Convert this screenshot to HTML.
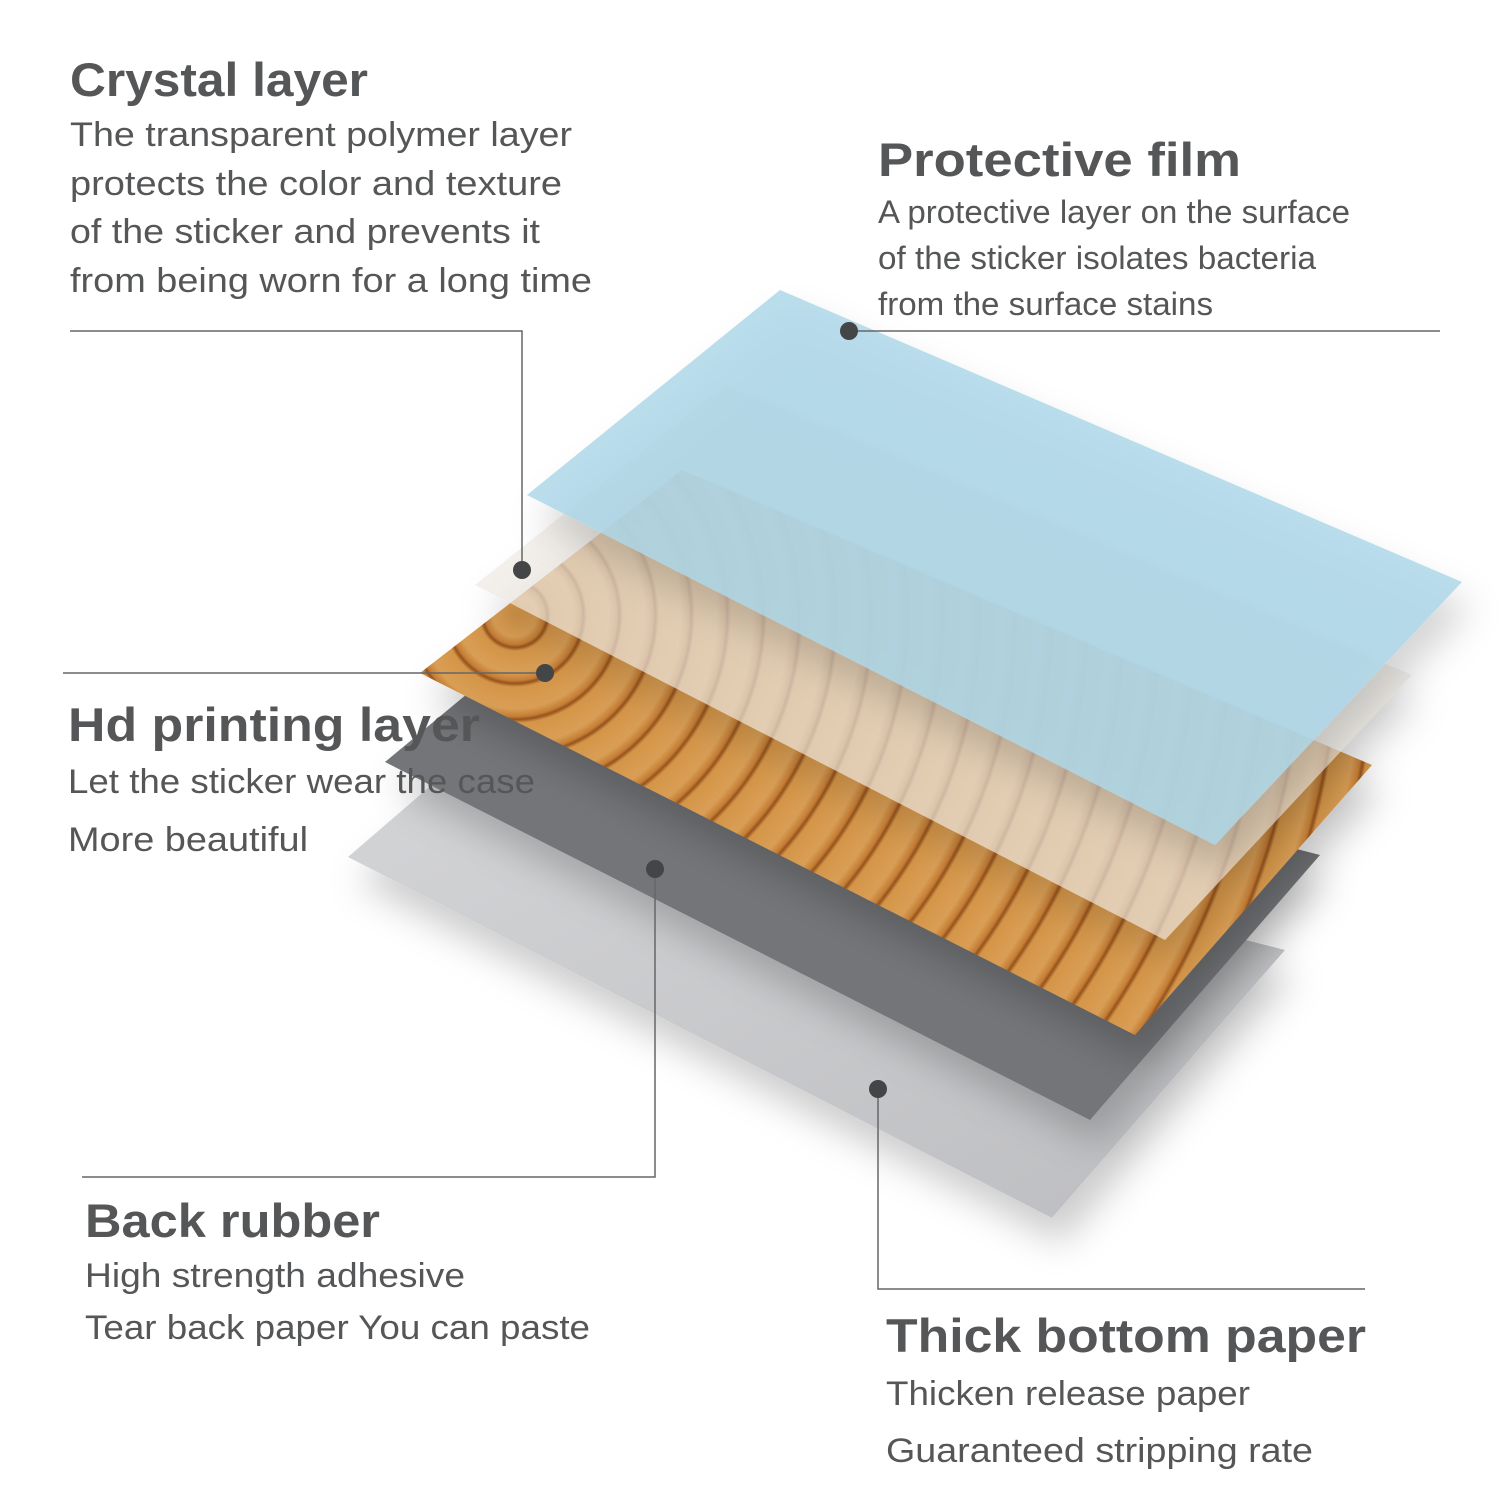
<!DOCTYPE html>
<html><head><meta charset="utf-8"><style>
html,body{margin:0;padding:0;background:#fff;}
svg{display:block}
text{font-family:"Liberation Sans",sans-serif;fill:#555657}
.h{font-weight:bold;font-size:47px}
.b{font-size:34px}
</style></head><body>
<svg width="1500" height="1500" viewBox="0 0 1500 1500">
<defs>
<radialGradient id="ring" gradientUnits="userSpaceOnUse" cx="515" cy="615" r="36" spreadMethod="repeat">
<stop offset="0" stop-color="#d49548"/>
<stop offset="0.6" stop-color="#d99e55"/>
<stop offset="0.82" stop-color="#c47d35"/>
<stop offset="0.9" stop-color="#95521c"/>
<stop offset="1" stop-color="#d49548"/>
</radialGradient>
<linearGradient id="lg" x1="0" y1="0" x2="1" y2="1">
<stop offset="0" stop-color="#d4d5d7"/><stop offset="1" stop-color="#bcbdc0"/>
</linearGradient>
<filter id="sh" x="-20%" y="-20%" width="140%" height="150%">
<feDropShadow dx="10" dy="25" stdDeviation="18" flood-color="#000" flood-opacity="0.2"/>
</filter>
</defs>

<polygon points="348,857 478,745 1285,950 1052,1218" fill="url(#lg)" filter="url(#sh)"/>
<polygon points="385,762 520,650 1320,855 1090,1120" fill="#737578" filter="url(#sh)"/>
<polygon points="420,673 682,470 1372,765 1135,1035" fill="url(#ring)" filter="url(#sh)"/>
<polygon points="475,585 725,385 1412,675 1165,940" fill="#ede8e2" fill-opacity="0.66" filter="url(#sh)"/>
<polygon points="527,495 780,290 1462,582 1215,845" fill="#a9d6e8" fill-opacity="0.82" filter="url(#sh)"/>

<g stroke="#666" stroke-width="1.5" fill="none">
<polyline points="70,331 522,331 522,570"/>
<line x1="849" y1="331" x2="1440" y2="331"/>
<line x1="63" y1="673" x2="545" y2="673"/>
<polyline points="655,869 655,1177 82,1177"/>
<polyline points="878,1089 878,1289 1365,1289"/>
</g>
<g fill="#444547">
<circle cx="522" cy="570" r="9"/>
<circle cx="849" cy="331" r="9"/>
<circle cx="545" cy="673" r="9"/>
<circle cx="655" cy="869" r="9"/>
<circle cx="878" cy="1089" r="9"/>
</g>

<g lengthAdjust="spacingAndGlyphs">
<text class="h" x="70" y="96" textLength="298" lengthAdjust="spacingAndGlyphs">Crystal layer</text>
<text class="b" x="70" y="146" textLength="502" lengthAdjust="spacingAndGlyphs">The transparent polymer layer</text>
<text class="b" x="70" y="195" textLength="492" lengthAdjust="spacingAndGlyphs">protects the color and texture</text>
<text class="b" x="70" y="243" textLength="470" lengthAdjust="spacingAndGlyphs">of the sticker and prevents it</text>
<text class="b" x="70" y="292" textLength="522" lengthAdjust="spacingAndGlyphs">from being worn for a long time</text>

<text class="h" x="878" y="176" textLength="363" lengthAdjust="spacingAndGlyphs">Protective film</text>
<text class="b" x="878" y="223" textLength="472" lengthAdjust="spacingAndGlyphs" style="font-size:32px">A protective layer on the surface</text>
<text class="b" x="878" y="269" textLength="438" lengthAdjust="spacingAndGlyphs" style="font-size:32px">of the sticker isolates bacteria</text>
<text class="b" x="878" y="315" textLength="335" lengthAdjust="spacingAndGlyphs" style="font-size:32px">from the surface stains</text>

<text class="h" x="68" y="741" textLength="412" lengthAdjust="spacingAndGlyphs">Hd printing layer</text>
<text class="b" x="68" y="793" textLength="467" lengthAdjust="spacingAndGlyphs">Let the sticker wear the case</text>
<text class="b" x="68" y="851" textLength="240" lengthAdjust="spacingAndGlyphs">More beautiful</text>

<text class="h" x="85" y="1237" textLength="295" lengthAdjust="spacingAndGlyphs">Back rubber</text>
<text class="b" x="85" y="1287" textLength="380" lengthAdjust="spacingAndGlyphs">High strength adhesive</text>
<text class="b" x="85" y="1339" textLength="505" lengthAdjust="spacingAndGlyphs">Tear back paper You can paste</text>

<text class="h" x="886" y="1352" textLength="480" lengthAdjust="spacingAndGlyphs">Thick bottom paper</text>
<text class="b" x="886" y="1405" textLength="364" lengthAdjust="spacingAndGlyphs">Thicken release paper</text>
<text class="b" x="886" y="1462" textLength="427" lengthAdjust="spacingAndGlyphs">Guaranteed stripping rate</text>
</g>
</svg>
</body></html>
